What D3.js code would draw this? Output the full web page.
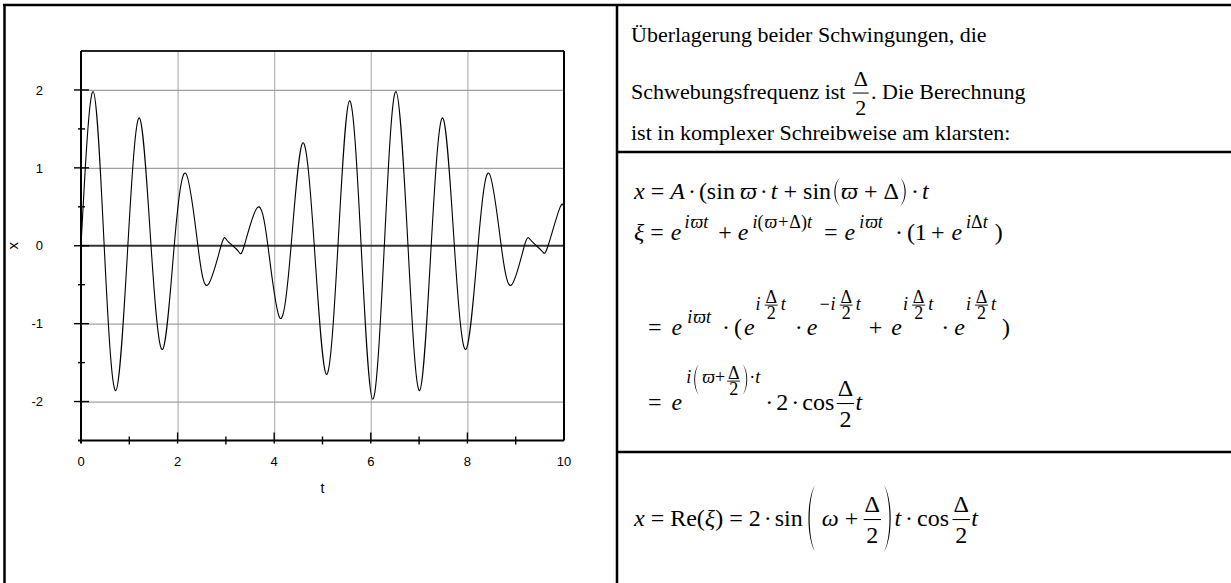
<!DOCTYPE html>
<html>
<head>
<meta charset="utf-8">
<script src="https://cdn.jsdelivr.net/npm/d3@7"></script>
<style>
  html, body { margin: 0; padding: 0; background: #fff; }
  svg { display: block; }
</style>
</head>
<body>
<svg id="chart" width="1231" height="583"></svg>
<script>
// ---- data: x(t) of the beat, extrema and zero crossings ----
const tValues = [0, 0.25, 0.48, 0.72, 0.97, 1.21, 1.45, 1.69, 1.93, 2.17, 2.42, 2.63, 2.90, 3.01, 3.14, 3.27, 3.38,
                 3.65, 3.87, 4.12, 4.35, 4.59, 4.83, 5.08, 5.32, 5.56, 5.80, 6.04, 6.28, 6.52, 6.77, 7.01, 7.25,
                 7.49, 7.73, 7.97, 8.22, 8.45, 8.70, 8.92, 9.18, 9.30, 9.43, 9.56, 9.67, 9.91, 10];
const xValues = [0, 1.98, 0, -1.86, 0, 1.64, 0, -1.33, 0, 0.93, 0, -0.50, 0, 0.08, 0, -0.08, 0,
                 0.49, 0, -0.93, 0, 1.32, 0, -1.65, 0, 1.86, 0, -1.97, 0, 1.98, 0, -1.86, 0,
                 1.64, 0, -1.33, 0, 0.93, 0, -0.50, 0, 0.08, 0, -0.08, 0, 0.48, 0.47];

const xTicks = [0, 2, 4, 6, 8, 10];
const xMinorTicks = [1, 3, 5, 7, 9];
const yTicks = [-2, -1, 0, 1, 2];
const yMinorTicks = [-1.5, -0.5, 0.5, 1.5];
const xGrid = [2, 4, 6, 8];
const yGrid = [-2, -1, 1, 2];
const xTitle = "t";
const yTitle = "x";

const textLine1 = "Überlagerung beider Schwingungen, die";
const textLine2a = "Schwebungsfrequenz ist";
const textLine2b = ". Die Berechnung";
const textLine3 = "ist in komplexer Schreibweise am klarsten:";

// ---- setup ----
const W = 1231, H = 583;
const svg = d3.select("#chart");
const SANS = "'Liberation Sans', Arial, Helvetica, sans-serif";
const SERIF = "'Liberation Serif', 'Times New Roman', Times, serif";

// table rules
const rules = svg.append("g").attr("stroke", "#000").attr("stroke-width", 2.5).attr("fill", "none");
rules.append("line").attr("x1", 3).attr("x2", W).attr("y1", 5).attr("y2", 5);
rules.append("line").attr("x1", 4.5).attr("x2", 4.5).attr("y1", 4).attr("y2", H);
rules.append("line").attr("x1", 617).attr("x2", 617).attr("y1", 4).attr("y2", H);
rules.append("line").attr("x1", 617).attr("x2", W).attr("y1", 152).attr("y2", 152);
rules.append("line").attr("x1", 617).attr("x2", W).attr("y1", 452).attr("y2", 452);

// ---- plot ----
const P = { l: 81, r: 564, t: 51, b: 440.5 };
const x = d3.scaleLinear().domain([0, 10]).range([P.l, P.r]);
const y = d3.scaleLinear().domain([-2.5, 2.5]).range([P.b, P.t]);

const plot = svg.append("g");

// grid
plot.append("g")
  .attr("transform", `translate(0,${P.b})`)
  .call(d3.axisBottom(x).tickValues(xGrid).tickSize(-(P.b - P.t)).tickFormat(""))
  .call(g => g.select(".domain").remove())
  .call(g => g.selectAll(".tick line").attr("stroke", "#b4b4b4").attr("stroke-width", 1.2));
plot.append("g")
  .attr("transform", `translate(${P.l},0)`)
  .call(d3.axisLeft(y).tickValues(yGrid).tickSize(-(P.r - P.l)).tickFormat(""))
  .call(g => g.select(".domain").remove())
  .call(g => g.selectAll(".tick line").attr("stroke", "#a0a0a0").attr("stroke-width", 1.2));

// zero line
plot.append("line")
  .attr("x1", x(0)).attr("x2", x(10)).attr("y1", y(0)).attr("y2", y(0))
  .attr("stroke", "#333").attr("stroke-width", 1.8);

// curve
const pts = tValues.map((t, i) => [t, xValues[i]]);
plot.append("path")
  .datum(pts)
  .attr("fill", "none")
  .attr("stroke", "#000")
  .attr("stroke-width", 1.1)
  .attr("d", d3.line().x(d => x(d[0])).y(d => y(d[1])).curve(d3.curveNatural));

// frame
plot.append("line").attr("x1", P.l).attr("x2", P.r).attr("y1", P.t).attr("y2", P.t)
  .attr("stroke", "#222").attr("stroke-width", 2);
plot.append("line").attr("x1", P.r).attr("x2", P.r).attr("y1", P.t).attr("y2", P.b)
  .attr("stroke", "#000").attr("stroke-width", 2);
plot.append("line").attr("x1", P.l - 3).attr("x2", P.r).attr("y1", P.b).attr("y2", P.b)
  .attr("stroke", "#000").attr("stroke-width", 2);
plot.append("line").attr("x1", P.l).attr("x2", P.l).attr("y1", P.t).attr("y2", P.b + 3)
  .attr("stroke", "#000").attr("stroke-width", 2);

// ticks
const tk = plot.append("g").attr("stroke", "#000").attr("stroke-width", 1.4);
tk.selectAll(".xmaj").data(xTicks.slice(1, -1)).join("line")
  .attr("x1", d => x(d)).attr("x2", d => x(d)).attr("y1", P.b - 8).attr("y2", P.b + 3);
tk.selectAll(".xmin").data(xMinorTicks).join("line")
  .attr("x1", d => x(d)).attr("x2", d => x(d)).attr("y1", P.b - 4).attr("y2", P.b + 4);
tk.selectAll(".ymaj").data(yTicks).join("line")
  .attr("x1", P.l - 7).attr("x2", P.l + 8).attr("y1", d => y(d)).attr("y2", d => y(d));
tk.selectAll(".ymin").data(yMinorTicks).join("line")
  .attr("x1", P.l - 3).attr("x2", P.l + 4).attr("y1", d => y(d)).attr("y2", d => y(d));

// tick labels
plot.append("g").selectAll("text").data(xTicks).join("text")
  .attr("x", d => x(d)).attr("y", P.b + 25)
  .attr("text-anchor", "middle")
  .attr("font-family", SANS).attr("font-size", 13)
  .text(d => d);
plot.append("g").selectAll("text").data(yTicks).join("text")
  .attr("x", P.l - 38).attr("y", d => y(d)).attr("dy", "0.36em")
  .attr("text-anchor", "end")
  .attr("font-family", SANS).attr("font-size", 13)
  .text(d => d);

// axis titles
plot.append("text")
  .attr("x", (P.l + P.r) / 2).attr("y", P.b + 52)
  .attr("text-anchor", "middle")
  .attr("font-family", SANS).attr("font-size", 14)
  .text(xTitle);
plot.append("text")
  .attr("transform", `translate(${P.l - 68},${(P.t + P.b) / 2}) rotate(-90)`)
  .attr("text-anchor", "middle").attr("dy", "0.35em")
  .attr("font-family", SANS).attr("font-size", 15)
  .text(yTitle);

// ---- typesetting of text and formulas ----
const MATH = 24, TXT = 22, SUP = 0.75;
const I = (s, o = {}) => Object.assign({ s, it: true }, o);
const R = (s, o = {}) => Object.assign({ s, it: false }, o);
const FR = (n, d, o = {}) => Object.assign({ frac: [n, d] }, o);
const PA = (c, top, bot, o = {}) => Object.assign({ paren: c, top, bot }, o);
const sup = (items, dy = -12, k = SUP) => items.map(d => Object.assign({}, d, { k, dy: (d.dy || 0) + dy }));

function parenPath(x0, y0, y1, w, left, thick) {
  const h = y1 - y0;
  const xe = left ? x0 + w * 0.85 : x0 + w * 0.15;
  const xm = left ? x0 + w * 0.05 : x0 + w * 0.95;
  const t = left ? thick : -thick;
  return `M${xe},${y0} C${xm},${y0 + h * 0.22} ${xm},${y1 - h * 0.22} ${xe},${y1} ` +
         `C${xm + t},${y1 - h * 0.22} ${xm + t},${y0 + h * 0.22} ${xe},${y0}Z`;
}

function typeset(g, x0, base, items, fs) {
  let cx = x0;
  for (const d of items) {
    cx += d.p || 0;
    const f = fs * (d.k || 1);
    const yb = base + (d.dy || 0);
    if (d.frac) {
      const gap = (d.gap == null ? 0.3 : d.gap) * f;
      const tn = g.append("text").attr("font-family", SERIF).attr("font-size", f).text(d.frac[0]);
      const td = g.append("text").attr("font-family", SERIF).attr("font-size", f).text(d.frac[1]);
      const w = Math.max(tn.node().getComputedTextLength(), td.node().getComputedTextLength()) + f * 0.2;
      const bar = yb - f * 0.27;
      tn.attr("x", cx + w / 2).attr("y", bar - gap).attr("text-anchor", "middle");
      td.attr("x", cx + w / 2).attr("y", bar + gap + f * 0.66).attr("text-anchor", "middle");
      g.append("line")
        .attr("x1", cx + f * 0.06).attr("x2", cx + w - f * 0.06)
        .attr("y1", bar).attr("y2", bar)
        .attr("stroke", "#000").attr("stroke-width", Math.max(0.9, f * 0.045));
      cx += w;
    } else if (d.paren) {
      const w = d.w || f * 0.36;
      g.append("path")
        .attr("d", parenPath(cx, yb - d.top, yb + d.bot, w, d.paren === "(", d.th || 1.6))
        .attr("fill", "#000");
      cx += w;
    } else {
      const t = g.append("text")
        .attr("x", cx).attr("y", yb)
        .attr("font-family", SERIF).attr("font-size", f)
        .attr("font-style", d.it ? "italic" : "normal")
        .text(d.s);
      cx += t.node().getComputedTextLength();
    }
    cx += d.q || 0;
  }
  return cx;
}

const txt = svg.append("g").attr("fill", "#000");

// explanatory text
typeset(txt, 631, 42, [R(textLine1)], TXT);
typeset(txt, 631, 99, [R(textLine2a), FR("Δ", "2", { p: 6, gap: 0.32 }), R(textLine2b, { p: 1 })], TXT);
typeset(txt, 631, 140, [R(textLine3)], TXT);

// shared pieces
const OP = s => R(s, { p: 6, q: 6 });
const DOT = R("·", { p: 3, q: 3 });
const expW = (p = 4) => sup([I("i", { p }), I("ϖ", { p: 1 }), I("t")]);
const expFrac = (pre, p = 1) => [
  I(pre, { k: SUP, dy: -25, p }),
  FR("Δ", "2", { k: SUP, dy: -25, gap: 0.12, p: 3, q: 2 }),
  I("t", { k: SUP, dy: -25 })
];

// x = A·(sin ϖ·t + sin(ϖ+Δ)·t
typeset(txt, 634, 199, [
  I("x"), OP("="), I("A"), DOT, R("(sin"), I("ϖ", { p: 5 }), DOT, I("t"), OP("+"), R("sin"),
  PA("(", 21, 7, { p: 1, w: 9, th: 1.5 }), I("ϖ"), OP("+"), R("Δ"), PA(")", 21, 7, { w: 9, th: 1.5 }),
  DOT, I("t")
], MATH);

// ξ = e^{iϖt} + e^{i(ϖ+Δ)t} = e^{iϖt}·(1+e^{iΔt})
typeset(txt, 634, 240, [
  I("ξ"), R("=", { p: 6, q: 7 }), I("e"), ...expW(3), R("+", { p: 10, q: 6 }), I("e"),
  ...sup([I("i", { p: 4 }), R("("), I("ϖ", { p: 1 }), R("+", { p: 1, q: 1 }), R("Δ"), R(")"), I("t")]),
  R("=", { p: 12, q: 7 }), I("e"), ...expW(4), R("·", { p: 12, q: 4 }), R("(1"), R("+", { p: 4, q: 7 }), I("e"),
  ...sup([I("i", { p: 4 }), R("Δ"), I("t")]), R(")", { p: 7 })
], MATH);

// = e^{iϖt}·(e^{iΔ/2 t}·e^{-iΔ/2 t} + e^{iΔ/2 t}·e^{iΔ/2 t})
typeset(txt, 648, 335, [
  R("=", { q: 10 }), I("e"), ...expW(5), R("·", { p: 11, q: 4 }), R("("), I("e", { p: 2 }), ...expFrac("i"),
  R("·", { p: 9, q: 4 }), I("e"), ...expFrac("−i"), R("+", { p: 8, q: 9 }), I("e"), ...expFrac("i"),
  R("·", { p: 8, q: 5 }), I("e"), ...expFrac("i"), R(")", { p: 6 })
], MATH);

// = e^{i(ϖ+Δ/2)·t}·2·cos(Δ/2)t
const E4 = -27;
typeset(txt, 648, 410, [
  R("=", { q: 10 }), I("e"),
  I("i", { k: SUP, dy: E4, p: 4 }), PA("(", 19, 12, { dy: E4, w: 8, th: 1.2, p: 1 }),
  I("ϖ", { k: SUP, dy: E4, p: 2 }), R("+", { k: SUP, dy: E4 }),
  FR("Δ", "2", { k: SUP, dy: E4 + 3, gap: 0.12, p: 1 }),
  PA(")", 19, 12, { dy: E4, w: 8, th: 1.2 }), R("·", { k: SUP, dy: E4 }), I("t", { k: SUP, dy: E4 }),
  R("·", { p: 5, q: 3 }), R("2"), DOT, R("cos"), FR("Δ", "2", { p: 1 }), I("t")
], MATH);

// x = Re(ξ) = 2·sin(ω + Δ/2)t·cos(Δ/2)t
typeset(txt, 634, 526, [
  I("x"), OP("="), R("Re("), I("ξ"), R(")"), OP("="), R("2"), DOT, R("sin"),
  PA("(", 41, 26, { p: 3, w: 11, th: 1.6 }), I("ω", { p: 5 }), OP("+"), FR("Δ", "2", { gap: 0.32, p: -2 }),
  PA(")", 41, 26, { w: 11, th: 1.6, q: 1 }), I("t"), R("·", { p: 4, q: 4 }), R("cos"),
  FR("Δ", "2", { p: 2, gap: 0.32 }), I("t")
], MATH);
</script>
</body>
</html>
